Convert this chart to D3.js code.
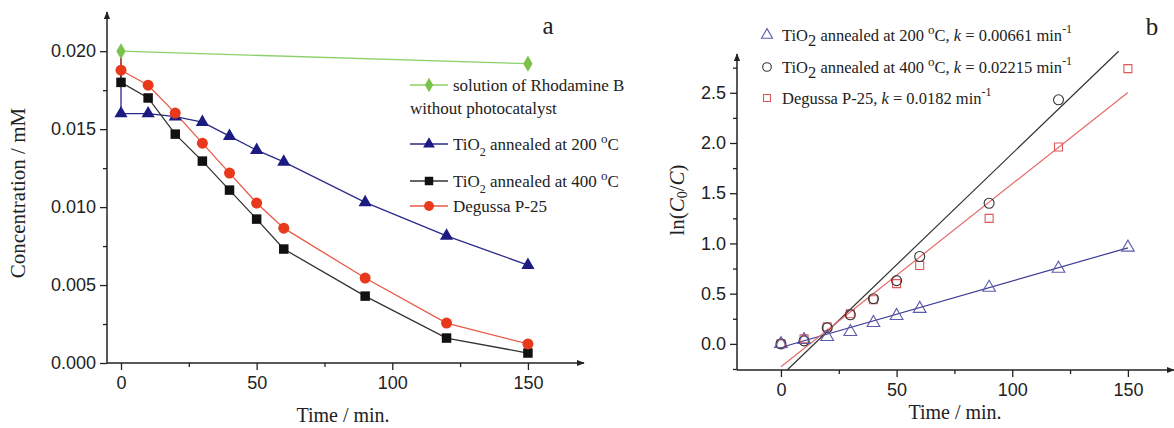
<!DOCTYPE html>
<html>
<head>
<meta charset="utf-8">
<script src="https://cdn.jsdelivr.net/npm/d3@7"></script>
<style>
  body { margin: 0; background: #fff; }
  svg { display: block; font-family: "Liberation Serif", "DejaVu Serif", serif; }
  .tick text { font-size: 18px; fill: #222; }
</style>
</head>
<body>
<svg width="1174" height="428"></svg>
<script>
// ---- panel a: concentration vs time
const c0 = 0.0200;
const greenTime = [0, 150];
const greenConc = [0.0200, 0.0192];
const timeA = [0, 10, 20, 30, 40, 50, 60, 90, 120, 150];
const conc200 = [0.0160, 0.0160, 0.0158, 0.01545, 0.01455, 0.01365, 0.0129, 0.0103, 0.00815, 0.00628];
const conc400 = [0.0180, 0.0170, 0.01468, 0.01295, 0.01109, 0.00923, 0.00731, 0.00429, 0.0016, 0.00064];
const concP25 = [0.01878, 0.01782, 0.01603, 0.0141, 0.01218, 0.01026, 0.00865, 0.00545, 0.00256, 0.00122];
const ticksA_x = [0, 50, 100, 150];
const ticksA_y = [0, 0.005, 0.010, 0.015, 0.020];

// ---- panel b: ln(C0/C) vs time
const timeB = [0, 10, 20, 30, 40, 50, 60, 90, 120, 150];
const ln200 = [0.0, 0.04, 0.07, 0.12, 0.21, 0.28, 0.35, 0.56, 0.75, 0.96];
const ln400 = [0.0, 0.03, 0.16, 0.29, 0.45, 0.63, 0.87, 1.40, 2.43];
const lnP25 = [0.0, 0.05, 0.17, 0.30, 0.44, 0.60, 0.78, 1.25, 1.96, 2.74];
const fit200 = { k: 0.00661, b: -0.035, from: 1, to: 150 };
const fit400 = { k: 0.02215, b: -0.32, from: 2.7, to: 146 };
const fitP25 = { k: 0.0182, b: -0.227, from: 0, to: 150 };
const ticksB_x = [0, 50, 100, 150];
const ticksB_y = [0, 0.5, 1.0, 1.5, 2.0, 2.5];

const svg = d3.select("svg");

svg.append("defs").append("marker")
    .attr("id", "arrow")
    .attr("viewBox", "0 0 10 10")
    .attr("refX", 9).attr("refY", 5)
    .attr("markerWidth", 8).attr("markerHeight", 8)
    .attr("markerUnits", "userSpaceOnUse")
    .attr("orient", "auto")
  .append("path")
    .attr("d", "M0,1 L10,5 L0,9 Z")
    .attr("fill", "#222");

function frame(g, x, y, xt, yt, xMinor, yMinor, yFmt) {
  const [x0, x1] = x.range();
  const [y0, y1] = y.range();
  // minor ticks
  g.append("g").attr("transform", `translate(0,${y0})`)
    .call(d3.axisBottom(x).tickValues(xMinor).tickSize(4).tickFormat(""))
    .call(a => a.select(".domain").remove());
  g.append("g").attr("transform", `translate(${x0},0)`)
    .call(d3.axisLeft(y).tickValues(yMinor).tickSize(4).tickFormat(""))
    .call(a => a.select(".domain").remove());
  // major ticks
  g.append("g").attr("transform", `translate(0,${y0})`)
    .call(d3.axisBottom(x).tickValues(xt).tickSize(7).tickPadding(6).tickFormat(d3.format("d")))
    .call(a => a.select(".domain").remove());
  g.append("g").attr("transform", `translate(${x0},0)`)
    .call(d3.axisLeft(y).tickValues(yt).tickSize(7).tickPadding(4).tickFormat(yFmt))
    .call(a => a.select(".domain").remove());
  g.selectAll(".tick line").attr("stroke", "#222").attr("stroke-width", 1.3);
  // axis lines with arrows
  g.append("line").attr("x1", x0).attr("x2", x1 + 1).attr("y1", y0).attr("y2", y0)
    .attr("stroke", "#222").attr("stroke-width", 1.5).attr("marker-end", "url(#arrow)");
  g.append("line").attr("x1", x0).attr("x2", x0).attr("y1", y0).attr("y2", y1 - 1)
    .attr("stroke", "#222").attr("stroke-width", 1.5).attr("marker-end", "url(#arrow)");
}

const sym = (type, size) => d3.symbol().type(type).size(size)();

// ================= panel a =================
const xa = d3.scaleLinear().domain([-5.16, 170.3]).range([107, 583]);
const ya = d3.scaleLinear().domain([0, 0.02245]).range([363, 13]);
const ga = svg.append("g");

frame(ga, xa, ya, ticksA_x, ticksA_y, [25, 75, 125], [0.0025, 0.0075, 0.0125, 0.0175], d3.format(".3f"));

const lineA = d3.line().x(d => xa(d[0])).y(d => ya(d[1]));
const seriesA = [
  { t: greenTime, v: greenConc, color: "#7cc24a", line: "#8ed16a", shape: d3.symbolDiamond, size: 75, start: false },
  { t: timeA, v: conc200, color: "#1b1b82", line: "#2a2a8c", shape: d3.symbolTriangle, size: 75, start: true },
  { t: timeA, v: conc400, color: "#111", line: "#333", shape: d3.symbolSquare, size: 90, start: true },
  { t: timeA, v: concP25, color: "#e8391d", line: "#e85a45", shape: d3.symbolCircle, size: 95, start: true }
];
// lines at the back, markers on top; green last at t=0
const order = [1, 2, 3, 0];
order.forEach(i => {
  const s = seriesA[i];
  const pts = s.t.map((t, j) => [t, s.v[j]]);
  if (s.start) pts.unshift([0, c0]);
  ga.append("path").attr("d", lineA(pts)).attr("fill", "none")
    .attr("stroke", s.line).attr("stroke-width", 1.3);
});
order.forEach(i => {
  const s = seriesA[i];
  ga.append("g").selectAll("path").data(s.t.map((t, j) => [t, s.v[j]])).join("path")
    .attr("transform", d => `translate(${xa(d[0])},${ya(d[1])})`)
    .attr("d", sym(s.shape, s.size)).attr("fill", s.color);
});

ga.append("text").attr("x", 18).attr("y", 193)
  .attr("transform", "rotate(-90,18,193)").attr("text-anchor", "middle")
  .attr("dominant-baseline", "central").attr("font-size", 21).attr("fill", "#222")
  .text("Concentration / mM");
ga.append("text").attr("x", 343).attr("y", 415).attr("text-anchor", "middle")
  .attr("dominant-baseline", "central").attr("font-size", 20).attr("fill", "#222")
  .text("Time / min.");
ga.append("text").attr("x", 548).attr("y", 25).attr("text-anchor", "middle")
  .attr("dominant-baseline", "central").attr("font-size", 25).attr("fill", "#222").text("a");

// legend a
const legA = [
  { s: seriesA[0], y: 85, lines: ["solution of Rhodamine B", "without photocatalyst"] },
  { s: seriesA[1], y: 144, ti: "200" },
  { s: seriesA[2], y: 181, ti: "400" },
  { s: seriesA[3], y: 206, plain: "Degussa P-25" }
];
legA.forEach(e => {
  const g = ga.append("g");
  g.append("line").attr("x1", 410).attr("x2", 448).attr("y1", e.y).attr("y2", e.y)
    .attr("stroke", e.s.line).attr("stroke-width", 1.3);
  g.append("path").attr("transform", `translate(429,${e.y})`)
    .attr("d", sym(e.s.shape, e.s.size * 0.8)).attr("fill", e.s.color);
  const tx = g.append("text").attr("x", 453).attr("y", e.y + 6).attr("font-size", 17).attr("fill", "#222");
  if (e.lines) {
    tx.text(e.lines[0]);
    g.append("text").attr("x", 410).attr("y", e.y + 29).attr("font-size", 17).attr("fill", "#222")
      .text(e.lines[1]);
  } else if (e.ti) {
    tx.append("tspan").text("TiO");
    tx.append("tspan").attr("dy", 6).attr("font-size", 12).text("2");
    tx.append("tspan").attr("dy", -6).text(` annealed at ${e.ti} `);
    tx.append("tspan").attr("dy", -7).attr("font-size", 13).text("o");
    tx.append("tspan").attr("dy", 7).text("C");
  } else {
    tx.text(e.plain);
  }
});

// ================= panel b =================
const xb = d3.scaleLinear().domain([-19.0, 169.5]).range([737, 1173]);
const yb = d3.scaleLinear().domain([-0.26, 2.876]).range([370, 55]);
const gb = svg.append("g");

frame(gb, xb, yb, ticksB_x, ticksB_y, [25, 75, 125], [-0.25, 0.25, 0.75, 1.25, 1.75, 2.25, 2.75], d3.format(".1f"));

const seriesB = [
  { t: timeB, v: ln200, fit: fit200, color: "#5b5bab", line: "#3b3b95", shape: d3.symbolTriangle, size: 70 },
  { t: timeB.slice(0, ln400.length), v: ln400, fit: fit400, color: "#333", line: "#333", shape: d3.symbolCircle, size: 78 },
  { t: timeB, v: lnP25, fit: fitP25, color: "#e05858", line: "#e46a6a", shape: d3.symbolSquare, size: 64 }
];
seriesB.forEach(s => {
  const f = s.fit;
  gb.append("line")
    .attr("x1", xb(f.from)).attr("y1", yb(f.k * f.from + f.b))
    .attr("x2", xb(f.to)).attr("y2", yb(f.k * f.to + f.b))
    .attr("stroke", s.line).attr("stroke-width", 1.2);
});
[2, 1, 0].forEach(i => {
  const s = seriesB[i];
  gb.append("g").selectAll("path").data(s.t.map((t, j) => [t, s.v[j]])).join("path")
    .attr("transform", d => `translate(${xb(d[0])},${yb(d[1])})`)
    .attr("d", sym(s.shape, s.size)).attr("fill", "none")
    .attr("stroke", s.color).attr("stroke-width", 1.1);
});

const lab = gb.append("text").attr("x", 677).attr("y", 200)
  .attr("transform", "rotate(-90,677,200)").attr("text-anchor", "middle")
  .attr("dominant-baseline", "central").attr("font-size", 21).attr("fill", "#222");
lab.append("tspan").text("ln(");
lab.append("tspan").attr("font-style", "italic").text("C");
lab.append("tspan").attr("dy", 5).attr("font-size", 14).text("0");
lab.append("tspan").attr("dy", -5).text("/");
lab.append("tspan").attr("font-style", "italic").text("C");
lab.append("tspan").text(")");

gb.append("text").attr("x", 955).attr("y", 412).attr("text-anchor", "middle")
  .attr("dominant-baseline", "central").attr("font-size", 20).attr("fill", "#222")
  .text("Time / min.");
gb.append("text").attr("x", 1152).attr("y", 26).attr("text-anchor", "middle")
  .attr("dominant-baseline", "central").attr("font-size", 25).attr("fill", "#222").text("b");

// legend b
const legB = [
  { s: seriesB[0], y: 35, name: "200", k: "0.00661" },
  { s: seriesB[1], y: 67, name: "400", k: "0.02215" },
  { s: seriesB[2], y: 98, name: null, k: "0.0182" }
];
legB.forEach(e => {
  const g = gb.append("g");
  g.append("path").attr("transform", `translate(767,${e.y})`)
    .attr("d", sym(e.s.shape, e.s.size * 0.75)).attr("fill", "none")
    .attr("stroke", e.s.color).attr("stroke-width", 1.1);
  const tx = g.append("text").attr("x", 782).attr("y", e.y + 6).attr("font-size", 16.5).attr("fill", "#222");
  if (e.name) {
    tx.append("tspan").text("TiO");
    tx.append("tspan").attr("dy", 5).text("2");
    tx.append("tspan").attr("dy", -5).text(` annealed at ${e.name} `);
    tx.append("tspan").attr("dy", -7).attr("font-size", 13).text("o");
    tx.append("tspan").attr("dy", 7).text("C, ");
  } else {
    tx.append("tspan").text("Degussa P-25, ");
  }
  tx.append("tspan").attr("font-style", "italic").text("k");
  tx.append("tspan").text(` = ${e.k} min`);
  tx.append("tspan").attr("dy", -8).attr("font-size", 12).text("-1");
});
</script>
</body>
</html>
